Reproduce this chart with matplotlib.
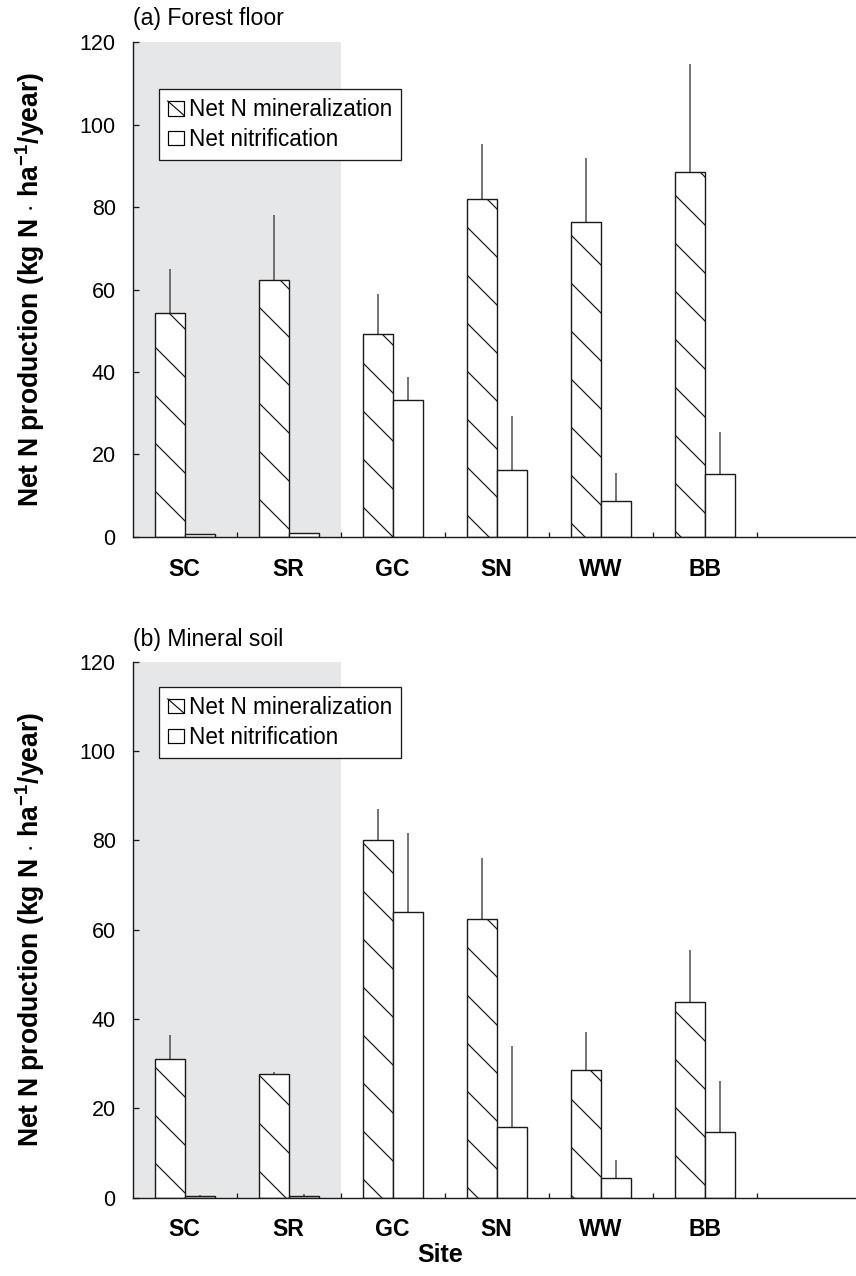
import numpy as np
import matplotlib
matplotlib.use('Agg')
import matplotlib.pyplot as plt
from matplotlib.patches import Rectangle, Patch
from matplotlib.lines import Line2D
from matplotlib.legend_handler import HandlerBase

# hatch tiles are one inch wide, 288 dpi gives the sparse hatch of the original
DPI = 288
PX = 72.0 / DPI   # one pixel in points

plt.rcParams['font.family'] = ['Liberation Sans', 'DejaVu Sans']
plt.rcParams['mathtext.fontset'] = 'custom'
plt.rcParams['mathtext.rm'] = 'Liberation Sans'
plt.rcParams['mathtext.bf'] = 'Liberation Sans:bold'
plt.rcParams['hatch.linewidth'] = 1.2 * PX

# ---------------- data ----------------
sites = ['SC', 'SR', 'GC', 'SN', 'WW', 'BB']

# (a) forest floor
ff_min = [54.4, 62.2, 49.2, 82.0, 76.5, 88.6]
ff_min_err = [10.6, 15.9, 9.7, 13.3, 15.3, 26.1]
ff_nit = [0.6, 0.9, 33.3, 16.1, 8.7, 15.2]
ff_nit_err = [0.0, 0.0, 5.4, 13.1, 6.8, 10.3]

# (b) mineral soil
ms_min = [31.0, 27.6, 80.0, 62.4, 28.6, 43.8]
ms_min_err = [5.5, 0.6, 7.0, 13.7, 8.5, 11.6]
ms_nit = [0.4, 0.4, 63.9, 15.9, 4.3, 14.7]
ms_nit_err = [0.2, 0.4, 17.8, 18.0, 4.1, 11.5]

yticks = [0, 20, 40, 60, 80, 100, 120]


class BoxHandler(HandlerBase):
    # legend box, optionally with one diagonal stroke like the original
    def __init__(self, diag):
        super().__init__()
        self.diag = diag

    def create_artists(self, legend, orig_handle, xdescent, ydescent,
                       width, height, fontsize, trans):
        x0, y0 = -xdescent, -ydescent
        arts = [Rectangle((x0, y0), width, height, facecolor='white',
                          edgecolor='black', lw=1.2 * PX, transform=trans)]
        if self.diag:
            arts.append(Line2D([x0, x0 + width], [y0 + height, y0],
                               color='black', lw=1.1 * PX, transform=trans))
        return arts


def draw_panel(ax, title, mins, min_err, nits, nit_err, leg_y, title_dy):
    x = np.arange(len(sites)) + 0.5
    w = 0.29
    ax.axvspan(0, 2, color='#e6e7e8', lw=0, zorder=0)

    ax.errorbar(x - w / 2, mins, yerr=[np.zeros(len(mins)), min_err], fmt='none',
                ecolor='#4a4a4a', elinewidth=1.5 * PX, capsize=0, zorder=1)
    ax.errorbar(x + w / 2, nits, yerr=[np.zeros(len(nits)), nit_err], fmt='none',
                ecolor='#4a4a4a', elinewidth=1.5 * PX, capsize=0, zorder=1)
    ax.bar(x - w / 2, mins, w, color='white', edgecolor='#1a1a1a', hatch='\\\\',
           lw=1.4 * PX, zorder=2)
    ax.bar(x + w / 2, nits, w, color='white', edgecolor='#1a1a1a',
           lw=1.4 * PX, zorder=2)

    ax.set_xlim(0, 6.95)
    ax.set_ylim(0, 120)
    ax.set_yticks(yticks)
    ax.set_xticks(range(1, 7))
    ax.set_xticklabels([])
    ax.set_xticks(x, minor=True)
    ax.set_xticklabels(sites, minor=True, fontweight='bold', fontsize=23 * PX)

    ax.tick_params(axis='x', which='minor', length=0, pad=21 * PX)
    ax.tick_params(axis='x', which='major', direction='in', length=5.5 * PX,
                   width=1.3 * PX, color='#1a1a1a')
    ax.tick_params(axis='y', direction='in', length=5.7 * PX, width=1.3 * PX,
                   pad=17 * PX, labelsize=21.5 * PX, color='#1a1a1a')
    for s in ['top', 'right']:
        ax.spines[s].set_visible(False)
    for s in ['left', 'bottom']:
        ax.spines[s].set_linewidth(1.4 * PX)
        ax.spines[s].set_color('#1a1a1a')

    ax.text(0, 1 + title_dy, title, transform=ax.transAxes, ha='left',
            va='center', fontsize=23 * PX)

    h1 = Patch(facecolor='white', edgecolor='black')
    h2 = Patch(facecolor='white', edgecolor='black')
    leg = ax.legend([h1, h2], ['Net N mineralization', 'Net nitrification'],
                    handler_map={h1: BoxHandler(True), h2: BoxHandler(False)},
                    loc='upper left', bbox_to_anchor=(0.036, leg_y), borderaxespad=0,
                    fontsize=22.5 * PX, frameon=True, fancybox=False,
                    edgecolor='#1a1a1a', framealpha=1, borderpad=0.4,
                    handlelength=0.74, handleheight=0.62, handletextpad=0.2,
                    labelspacing=0.3)
    leg.get_frame().set_linewidth(1.3 * PX)


W, H = 856, 1276
fig = plt.figure(figsize=(W / DPI, H / DPI), dpi=DPI)

ax1 = fig.add_axes([132.7 / W, (H - 536.7) / H, 722.8 / W, 494.4 / H])
ax2 = fig.add_axes([132.7 / W, (H - 1197.5) / H, 722.8 / W, 535.6 / H])

draw_panel(ax1, '(a) Forest floor', ff_min, ff_min_err, ff_nit, ff_nit_err,
           0.905, 24 / 494.4)
draw_panel(ax2, '(b) Mineral soil', ms_min, ms_min_err, ms_nit, ms_nit_err,
           0.953, 22 / 535.6)

ylab = r'Net N production (kg N $\cdot$ ha$^{\mathbf{-1}}$/year)'
fig.text(30 / W, 1 - 289.5 / H, ylab, rotation=90, ha='center', va='center',
         fontweight='bold', fontsize=26.5 * PX)
fig.text(30 / W, 1 - 929.6 / H, ylab, rotation=90, ha='center', va='center',
         fontweight='bold', fontsize=26.5 * PX)
fig.text(440 / W, 1 - 1255 / H, 'Site', ha='center', va='center',
         fontweight='bold', fontsize=25 * PX)

fig.savefig('out.png', dpi=DPI)
